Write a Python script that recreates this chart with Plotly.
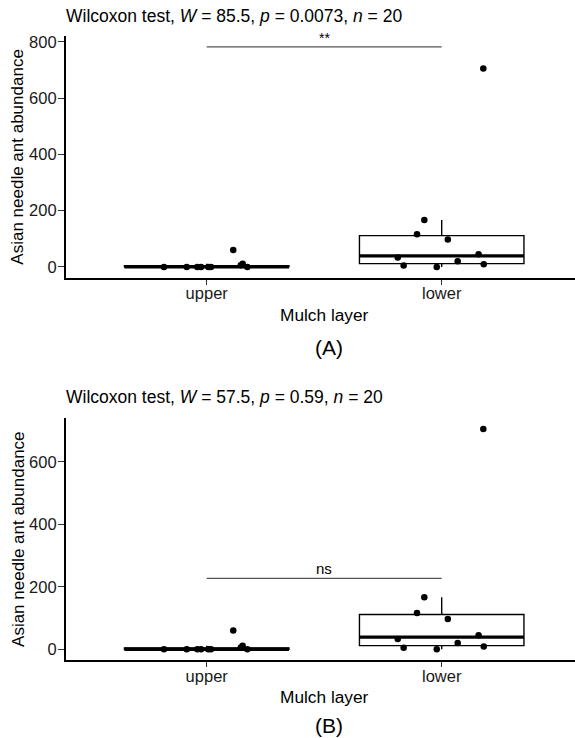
import numpy as np
import plotly.graph_objects as go

# ---------------- data ----------------
categories = ["upper", "lower"]
upper_values = [0, 0, 0, 0, 0, 0, 0, 6, 11, 60]
lower_values = [705, 167, 116, 97, 45, 33, 20, 9, 5, 0]
# horizontal jitter (category units)
upper_jitter = [-0.182, -0.085, -0.040, -0.024, 0.007, 0.018, 0.173, 0.145, 0.153, 0.113]
lower_jitter = [0.177, -0.074, -0.105, 0.026, 0.157, -0.187, 0.068, 0.179, -0.162, -0.021]

panel_titles = [
    "Wilcoxon test, <i>W</i> = 85.5, <i>p</i> = 0.0073, <i>n</i> = 20",
    "Wilcoxon test, <i>W</i> = 57.5, <i>p</i> = 0.59, <i>n</i> = 20",
]
sig_labels = ["**", "ns"]
bracket_y = [782, 227]
yticks = [[0, 200, 400, 600, 800], [0, 200, 400, 600]]
panel_tags = ["(A)", "(B)"]
y_title = "Asian needle ant abundance"
x_title = "Mulch layer"

# ---------------- layout constants ----------------
W, H = 575, 738
FONT = "Liberation Sans, Arial, sans-serif"
x_left_px = 65.7
cat_px = 235.0
xr = [0.4, 0.4 + (W - x_left_px) / cat_px]
panels_px = [(33.0, 276.0), (416.7, 660.0)]
title_px = [13.3, 396.0]
tag_px = [346.0, 725.0]
xtitle_off = [37.3, 36.7]
box_w = 0.7


def box_stats(v):
    a = np.asarray(v, dtype=float)
    q1, med, q3 = np.percentile(a, [25, 50, 75])
    iqr = q3 - q1
    lf = a[a >= q1 - 1.5 * iqr].min()
    uf = a[a <= q3 + 1.5 * iqr].max()
    return q1, med, q3, lf, uf


groups = [upper_values, lower_values]
jitters = [upper_jitter, lower_jitter]

fig = go.Figure()
layout_axes = {}
annotations = []

for p in range(2):
    xa = "x" if p == 0 else "x2"
    ya = "y" if p == 0 else "y2"
    top_px, bot_px = panels_px[p]
    # data-driven y range with 5% expansion
    all_y = groups[0] + groups[1] + [bracket_y[p]]
    lo, hi = min(all_y), max(all_y)
    span = hi - lo
    yr = [lo - 0.05 * span, hi + 0.05 * span]

    for i, vals in enumerate(groups):
        pos = i + 1
        q1, med, q3, lf, uf = box_stats(vals)
        fig.add_trace(go.Box(
            x=[pos], q1=[q1], median=[med], q3=[q3],
            lowerfence=[lf], upperfence=[uf],
            width=box_w, fillcolor="white",
            line=dict(color="black", width=1.4),
            whiskerwidth=0, boxpoints=False,
            xaxis=xa, yaxis=ya, hoverinfo="skip",
        ))
        fig.add_trace(go.Scatter(
            x=[pos - box_w / 2, pos + box_w / 2], y=[med, med],
            mode="lines", line=dict(color="black", width=3.4),
            xaxis=xa, yaxis=ya, hoverinfo="skip",
        ))
        fig.add_trace(go.Scatter(
            x=[pos + j for j in jitters[i]], y=vals,
            mode="markers", marker=dict(color="black", size=6.5),
            xaxis=xa, yaxis=ya, hoverinfo="skip",
        ))

    # significance bracket
    fig.add_trace(go.Scatter(
        x=[1, 2], y=[bracket_y[p], bracket_y[p]], mode="lines",
        line=dict(color="#555555", width=1.1),
        xaxis=xa, yaxis=ya, hoverinfo="skip",
    ))
    annotations.append(dict(
        x=1.5, y=bracket_y[p], xref=xa, yref=ya, text=sig_labels[p],
        showarrow=False, yanchor="bottom", yshift=-1,
        font=dict(family=FONT, size=15 if p == 1 else 14, color="black"),
    ))

    ydom = [(H - bot_px) / H, (H - top_px) / H]
    axkey = "" if p == 0 else "2"
    layout_axes["xaxis" + axkey] = dict(
        domain=[x_left_px / W, 1.0], range=xr, anchor=ya,
        tickvals=[1, 2], ticktext=categories,
        showline=True, linecolor="black", linewidth=1.5,
        ticks="outside", ticklen=5, tickwidth=1.2, tickcolor="#333333",
        ticklabelstandoff=-5,
        showgrid=False, zeroline=False,
        tickfont=dict(family=FONT, size=16.5, color="#1a1a1a"),
    )
    layout_axes["yaxis" + axkey] = dict(
        domain=ydom, range=yr, anchor=xa,
        tickvals=yticks[p],
        showline=True, linecolor="black", linewidth=1.5,
        ticks="outside", ticklen=6, tickwidth=1.2, tickcolor="#333333",
        ticklabelstandoff=-2,
        showgrid=False, zeroline=False,
        tickfont=dict(family=FONT, size=16.5, color="#1a1a1a"),
    )

    # panel title
    annotations.append(dict(
        x=66.0 / W, y=(H - title_px[p]) / H, xref="paper", yref="paper",
        text=panel_titles[p], showarrow=False, xanchor="left", yanchor="middle",
        xshift=-2,
        font=dict(family=FONT, size=17.5, color="black"),
    ))
    # y axis title
    annotations.append(dict(
        x=17.8 / W, y=0.5, xref="paper", yref=ya + " domain",
        text=y_title, showarrow=False, textangle=-90,
        xanchor="center", yanchor="middle",
        font=dict(family=FONT, size=17, color="black"),
    ))
    # x axis title
    annotations.append(dict(
        x=(x_left_px + 1.1 * cat_px) / W, y=(H - (bot_px + xtitle_off[p])) / H,
        xref="paper", yref="paper", text=x_title, showarrow=False,
        xanchor="center", yanchor="middle",
        font=dict(family=FONT, size=17.3, color="black"),
    ))
    # panel tag
    annotations.append(dict(
        x=329 / W, y=(H - tag_px[p]) / H, xref="paper", yref="paper",
        text=panel_tags[p], showarrow=False, xanchor="center", yanchor="middle",
        font=dict(family=FONT, size=21, color="black"),
    ))

fig.update_layout(
    width=W, height=H,
    margin=dict(l=0, r=0, t=0, b=0),
    paper_bgcolor="white", plot_bgcolor="white",
    showlegend=False,
    annotations=annotations,
    **layout_axes,
)

fig.write_html(
    "out.html",
    config={"displayModeBar": False},
    post_script="document.body.style.margin='0px';document.body.style.overflow='hidden';",
)
